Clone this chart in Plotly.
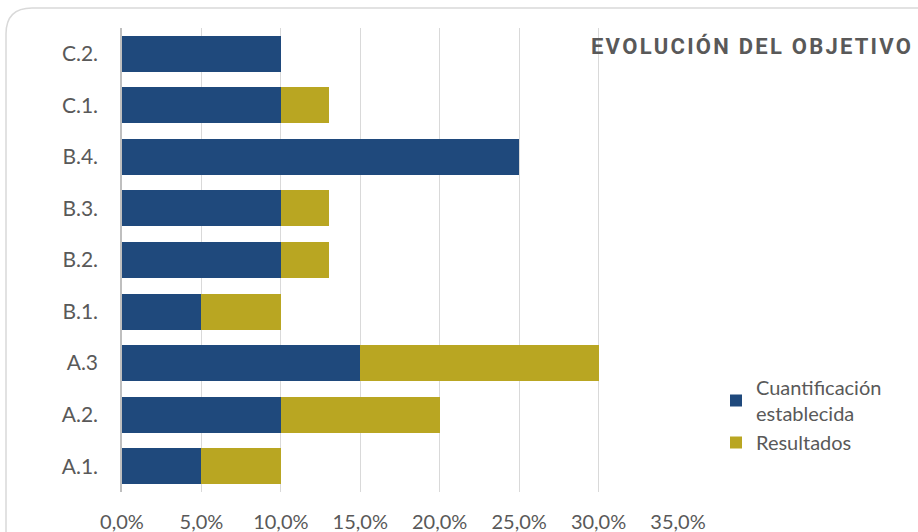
import plotly.graph_objects as go

# data
categorias = ["A.1.", "A.2.", "A.3", "B.1.", "B.2.", "B.3.", "B.4.", "C.1.", "C.2."]
cuantificacion = [5, 10, 15, 5, 10, 10, 25, 10, 10]
resultados = [5, 10, 15, 5, 3, 3, 0, 3, 0]
ticks_x = [0, 5, 10, 15, 20, 25, 30, 35]
ticks_txt = ["0,0%", "5,0%", "10,0%", "15,0%", "20,0%", "25,0%", "30,0%", "35,0%"]

AZUL = "#1F497C"
ORO = "#B9A622"
GRIS = "#595959"

fig = go.Figure()
fig.add_trace(go.Bar(
    y=categorias, x=cuantificacion, orientation="h",
    name="Cuantificación<br>establecida", marker=dict(color=AZUL, line=dict(width=0)),
))
fig.add_trace(go.Bar(
    y=categorias, x=resultados, orientation="h",
    name="Resultados", marker=dict(color=ORO, line=dict(width=0)),
))

# margins in px so the plot area sits where the reference has it
L, R, T, B = 122, 240, 28, 40
W, H = 918, 532
pw, ph = W - L - R, H - T - B

def px(x):
    return (x - L) / pw

def py(y):
    return (H - B - y) / ph

# rounded chart border (Excel style)
x0, x1, y0, y1, rad = 6, 926, 8, 540, 26
rx, ry = rad / pw, rad / ph
path = (
    f"M {px(x0)},{py(y1)} L {px(x0)},{py(y0) - ry} "
    f"Q {px(x0)},{py(y0)} {px(x0) + rx},{py(y0)} "
    f"L {px(x1)},{py(y0)}"
)
fig.add_shape(type="path", path=path, xref="paper", yref="paper",
              line=dict(color="#D9D9D9", width=1.5), layer="below")

titulo = "EVOLUCIÓN DEL OBJETIVO"
fig.add_annotation(
    text="\u200a".join(titulo),
    xref="paper", yref="paper", x=px(913), y=py(46), xanchor="right", yanchor="middle",
    showarrow=False, font=dict(family="Roboto", size=22, color=GRIS, weight="bold"),
)

fig.update_layout(
    width=W, height=H, barmode="stack", bargap=0.3,
    margin=dict(l=L, r=R, t=T, b=B),
    paper_bgcolor="white", plot_bgcolor="white",
    font=dict(family="Lato", size=20, color=GRIS),
    legend=dict(x=px(716), y=py(368), xanchor="left", yanchor="top",
                traceorder="normal", font=dict(size=20, color=GRIS),
                itemwidth=30, tracegroupgap=0, bgcolor="rgba(0,0,0,0)"),
    xaxis=dict(range=[0, 35], tickvals=ticks_x, ticktext=ticks_txt,
               showgrid=True, gridcolor="#D9D9D9", gridwidth=1.3,
               zeroline=False, showline=False, ticks="", automargin=False,
               ticklabelstandoff=16, fixedrange=True),
    yaxis=dict(categoryorder="array", categoryarray=categorias,
               showline=True, linecolor="#BFBFBF", linewidth=1.5, automargin=False,
               showgrid=False, ticks="", ticklabelstandoff=18, tickfont=dict(size=21)),
)

# drop the default page margin so the figure fills the window from 0,0
fig.write_html("out.html", config={"displayModeBar": False},
               post_script="document.body.style.margin='0';")
